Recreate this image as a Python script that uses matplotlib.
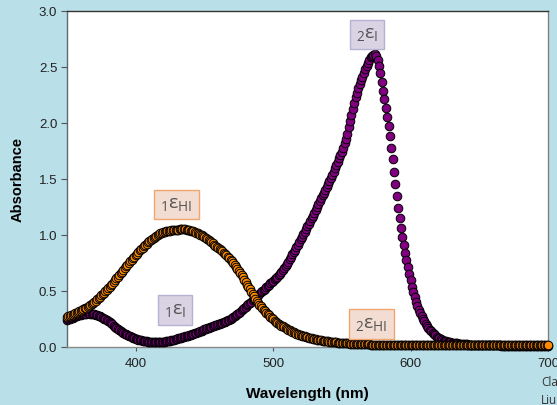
import matplotlib
matplotlib.use("Agg")
import matplotlib.pyplot as plt

# Wavelength (nm), one reading per nm
wavelength = list(range(350, 701))

# Absorbance of the orange (HI) band, 350-700 nm
abs_hi = [
    0.270, 0.275, 0.280, 0.285, 0.290, 0.295, 0.300, 0.306, 0.312, 0.318,
    0.325, 0.331, 0.338, 0.345, 0.352, 0.360, 0.368, 0.377, 0.386, 0.395,
    0.405, 0.415, 0.426, 0.437, 0.448, 0.460, 0.472, 0.485, 0.498, 0.511,
    0.525, 0.539, 0.553, 0.567, 0.582, 0.597, 0.612, 0.627, 0.643, 0.658,
    0.674, 0.689, 0.705, 0.720, 0.735, 0.750, 0.765, 0.779, 0.792, 0.806,
    0.820, 0.834, 0.848, 0.862, 0.876, 0.888, 0.900, 0.912, 0.923, 0.934,
    0.945, 0.956, 0.966, 0.976, 0.985, 0.994, 1.002, 1.009, 1.015, 1.020,
    1.025, 1.029, 1.032, 1.035, 1.038, 1.040, 1.042, 1.044, 1.045, 1.047,
    1.048, 1.049, 1.050, 1.050, 1.050, 1.050, 1.050, 1.048, 1.046, 1.043,
    1.040, 1.036, 1.032, 1.027, 1.022, 1.016, 1.010, 1.003, 0.996, 0.988,
    0.980, 0.971, 0.962, 0.953, 0.944, 0.935, 0.925, 0.915, 0.905, 0.895,
    0.885, 0.875, 0.864, 0.853, 0.842, 0.830, 0.818, 0.805, 0.792, 0.779,
    0.765, 0.749, 0.733, 0.717, 0.700, 0.681, 0.662, 0.642, 0.622, 0.601,
    0.580, 0.558, 0.536, 0.514, 0.492, 0.471, 0.452, 0.432, 0.413, 0.395,
    0.378, 0.362, 0.347, 0.333, 0.320, 0.307, 0.295, 0.282, 0.270, 0.258,
    0.247, 0.236, 0.227, 0.218, 0.209, 0.200, 0.192, 0.184, 0.176, 0.168,
    0.160, 0.154, 0.148, 0.142, 0.136, 0.130, 0.125, 0.120, 0.115, 0.110,
    0.105, 0.101, 0.098, 0.094, 0.091, 0.087, 0.084, 0.081, 0.078, 0.075,
    0.072, 0.069, 0.067, 0.064, 0.062, 0.060, 0.058, 0.056, 0.054, 0.052,
    0.050, 0.048, 0.047, 0.045, 0.044, 0.042, 0.041, 0.040, 0.039, 0.038,
    0.037, 0.036, 0.035, 0.034, 0.033, 0.032, 0.031, 0.030, 0.029, 0.028,
    0.028, 0.027, 0.027, 0.026, 0.026, 0.025, 0.025, 0.024, 0.024, 0.023,
    0.023, 0.022, 0.022, 0.021, 0.021, 0.020, 0.020, 0.020, 0.020, 0.019,
    0.019, 0.019, 0.019, 0.019, 0.019, 0.018, 0.018, 0.018, 0.018, 0.018,
    0.018, 0.018, 0.018, 0.017, 0.017, 0.017, 0.017, 0.017, 0.017, 0.017,
    0.017, 0.017, 0.017, 0.016, 0.016, 0.016, 0.016, 0.016, 0.016, 0.016,
    0.016, 0.016, 0.016, 0.016, 0.016, 0.016, 0.015, 0.015, 0.015, 0.015,
    0.015, 0.015, 0.015, 0.015, 0.015, 0.015, 0.015, 0.015, 0.015, 0.015,
    0.015, 0.015, 0.015, 0.015, 0.015, 0.015, 0.015, 0.015, 0.015, 0.015,
    0.015, 0.015, 0.015, 0.015, 0.015, 0.015, 0.015, 0.015, 0.015, 0.015,
    0.015, 0.015, 0.015, 0.015, 0.015, 0.015, 0.015, 0.015, 0.015, 0.015,
    0.015, 0.015, 0.015, 0.015, 0.015, 0.015, 0.015, 0.015, 0.015, 0.015,
    0.015, 0.015, 0.015, 0.015, 0.015, 0.015, 0.015, 0.015, 0.015, 0.015,
    0.015, 0.015, 0.015, 0.015, 0.015, 0.015, 0.015, 0.015, 0.015, 0.015,
    0.015, 0.015, 0.015, 0.015, 0.015, 0.015, 0.015, 0.015, 0.015, 0.015,
    0.015,
]

# Absorbance of the purple (I) band, 350-700 nm
abs_i = [
    0.240, 0.246, 0.252, 0.258, 0.263, 0.268, 0.273, 0.278, 0.282, 0.286,
    0.289, 0.292, 0.295, 0.297, 0.299, 0.300, 0.300, 0.299, 0.298, 0.296,
    0.293, 0.289, 0.285, 0.280, 0.274, 0.268, 0.261, 0.254, 0.246, 0.238,
    0.230, 0.221, 0.212, 0.202, 0.192, 0.182, 0.172, 0.162, 0.153, 0.144,
    0.136, 0.128, 0.120, 0.113, 0.106, 0.100, 0.094, 0.088, 0.083, 0.078,
    0.074, 0.070, 0.066, 0.063, 0.060, 0.057, 0.055, 0.053, 0.051, 0.049,
    0.048, 0.047, 0.046, 0.045, 0.045, 0.045, 0.045, 0.045, 0.046, 0.047,
    0.048, 0.049, 0.051, 0.053, 0.055, 0.057, 0.060, 0.063, 0.066, 0.069,
    0.073, 0.076, 0.080, 0.083, 0.087, 0.090, 0.094, 0.097, 0.101, 0.105,
    0.109, 0.113, 0.118, 0.122, 0.127, 0.132, 0.137, 0.142, 0.147, 0.152,
    0.157, 0.161, 0.166, 0.170, 0.175, 0.179, 0.184, 0.188, 0.193, 0.197,
    0.202, 0.207, 0.212, 0.217, 0.222, 0.227, 0.233, 0.239, 0.245, 0.251,
    0.258, 0.266, 0.275, 0.285, 0.295, 0.305, 0.316, 0.327, 0.338, 0.349,
    0.360, 0.371, 0.383, 0.394, 0.406, 0.418, 0.430, 0.442, 0.454, 0.465,
    0.477, 0.488, 0.500, 0.511, 0.522, 0.533, 0.545, 0.556, 0.568, 0.580,
    0.592, 0.604, 0.616, 0.629, 0.642, 0.656, 0.670, 0.686, 0.702, 0.720,
    0.738, 0.760, 0.783, 0.804, 0.826, 0.848, 0.870, 0.892, 0.915, 0.938,
    0.962, 0.985, 1.008, 1.031, 1.054, 1.077, 1.100, 1.124, 1.148, 1.173,
    1.198, 1.224, 1.250, 1.276, 1.302, 1.328, 1.354, 1.379, 1.404, 1.430,
    1.456, 1.483, 1.510, 1.537, 1.565, 1.595, 1.625, 1.655, 1.685, 1.715,
    1.745, 1.780, 1.818, 1.860, 1.905, 1.960, 2.015, 2.070, 2.125, 2.180,
    2.230, 2.272, 2.310, 2.345, 2.380, 2.415, 2.450, 2.480, 2.510,
    2.540, 2.565, 2.585, 2.600, 2.610, 2.612, 2.595, 2.560, 2.510, 2.450,
    2.370, 2.285, 2.210, 2.135, 2.055, 1.970, 1.880, 1.780, 1.675, 1.565,
    1.455, 1.345, 1.245, 1.150, 1.065, 0.985, 0.910, 0.840, 0.775, 0.715,
    0.655, 0.595, 0.540, 0.490, 0.443, 0.400, 0.365, 0.333, 0.304, 0.278,
    0.253, 0.230, 0.209, 0.190, 0.172, 0.155, 0.140, 0.126, 0.114, 0.103,
    0.093, 0.084, 0.076, 0.069, 0.063, 0.058, 0.053,
    0.050, 0.047, 0.045, 0.042, 0.040, 0.038, 0.036, 0.034, 0.032, 0.030,
    0.029, 0.027, 0.026, 0.025, 0.024, 0.023, 0.022, 0.021, 0.020, 0.019,
    0.019, 0.018, 0.018, 0.017, 0.017, 0.016, 0.016, 0.016, 0.016, 0.015,
    0.015, 0.015, 0.015, 0.015, 0.014, 0.014, 0.014, 0.014, 0.014, 0.014,
    0.013, 0.013, 0.013, 0.013, 0.013, 0.013, 0.013, 0.013, 0.013, 0.013,
    0.012, 0.012, 0.012, 0.012, 0.012, 0.012, 0.012, 0.012, 0.012, 0.012,
    0.012, 0.012, 0.012, 0.012, 0.012, 0.012, 0.012, 0.012, 0.012, 0.012,
    0.012, 0.012, 0.012, 0.012, 0.012,
]

x_ticks = [400, 500, 600, 700]
y_ticks = [0.0, 0.5, 1.0, 1.5, 2.0, 2.5, 3.0]

plt.rcParams['font.family'] = ['Liberation Sans', 'DejaVu Sans']
plt.rcParams['mathtext.fontset'] = 'custom'
plt.rcParams['mathtext.rm'] = 'Open Sans'
plt.rcParams['mathtext.it'] = 'Open Sans'

bg = '#b9dfe8'
fig = plt.figure(figsize=(5.57, 4.05), dpi=100, facecolor=bg)
ax = fig.add_axes([0.1203, 0.1432, 0.8635, 0.8296])
ax.set_facecolor('white')

ms = 6.2
ax.plot(wavelength, abs_i, linestyle='none', marker='o', markersize=ms,
        markerfacecolor='#800080', markeredgecolor='black', markeredgewidth=0.7,
        clip_on=False, zorder=3)
ax.plot(wavelength, abs_hi, linestyle='none', marker='o', markersize=ms,
        markerfacecolor='#ff8c00', markeredgecolor='black', markeredgewidth=0.7,
        clip_on=False, zorder=4)

ax.set_xlim(350, 700)
ax.set_ylim(0, 3.0)
ax.set_xticks(x_ticks)
ax.set_yticks(y_ticks)
ax.set_yticklabels([f'{v:.1f}' for v in y_ticks])
ax.tick_params(axis='both', labelsize=9.5, colors='#222222', direction='out')
ax.tick_params(axis='y', length=4, width=0.8, color='#555555', pad=3)
ax.tick_params(axis='x', length=3, width=0.8, color='#555555', pad=5)

ax.spines['left'].set_color('#5a6a70')
ax.spines['top'].set_color('#333333')
ax.spines['right'].set_color('#808080')
ax.spines['bottom'].set_color('#8a8a8a')
for s in ax.spines.values():
    s.set_linewidth(1.0)

ax.set_xlabel('Wavelength (nm)', fontsize=11, fontweight='bold', labelpad=12)
ax.set_ylabel('Absorbance', fontsize=10.5, fontweight='bold', labelpad=10)

# Band labels
purple_box = dict(boxstyle='square,pad=0.32', facecolor='#d9d3e4', edgecolor='#b9b0d2', linewidth=1)
orange_box = dict(boxstyle='square,pad=0.32', facecolor='#f3ddd2', edgecolor='#f0a66e', linewidth=1)
labels = [
    (568.3, 2.79, r'$_{2}ε_{\mathrm{I}}$', purple_box),
    (429.7, 1.27, r'$_{1}ε_{\mathrm{HI}}$', orange_box),
    (428.6, 0.33, r'$_{1}ε_{\mathrm{I}}$', purple_box),
    (571.3, 0.205, r'$_{2}ε_{\mathrm{HI}}$', orange_box),
]
for x, y, t, box in labels:
    ax.text(x, y, t, fontsize=14, color='#555555', ha='center', va='center',
            bbox=box, zorder=6)

# Caption cut off at the bottom right, as in the reference
fig.text(541 / 557, 1 - 383 / 405, 'Clark', fontsize=8.5, family='Open Sans',
         color='#333333', ha='left', va='center')
fig.text(541 / 557, 1 - 401 / 405, 'Liu', fontsize=8.5, family='Open Sans',
         color='#333333', ha='left', va='center')

fig.savefig('out.png', dpi=100, facecolor=bg)
